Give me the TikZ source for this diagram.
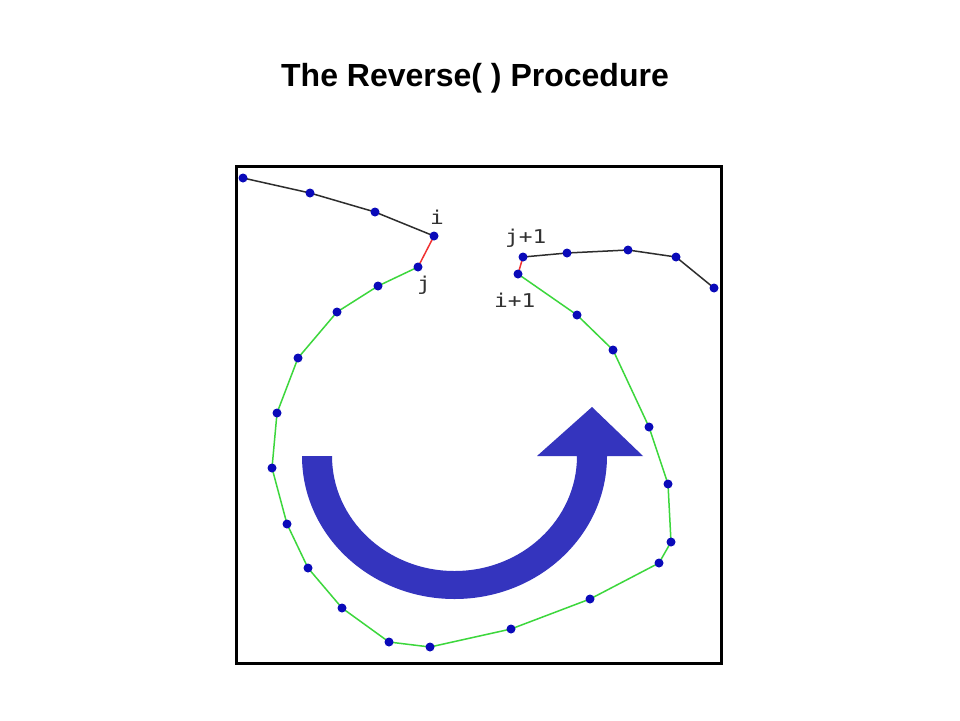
\documentclass[tikz,border=0pt]{standalone}
\usepackage{fontspec}
\setmainfont{Liberation Sans}
\newfontfamily\labfont[FakeStretch=1.2]{DejaVu Sans Mono}
\begin{document}
\begin{tikzpicture}[x=1pt,y=-1pt,
  dotstyle/.style={circle,fill=dotblue,inner sep=0pt,minimum size=9pt},
  blackline/.style={draw=linegrey,line width=1.5pt},
  greenline/.style={draw=linegreen,line width=1.5pt},
  redline/.style={draw=linered,line width=1.5pt},
  lab/.style={font=\labfont\fontsize{19}{19}\selectfont,text=labgrey,inner sep=0pt}]
\definecolor{dotblue}{RGB}{10,10,185}
\definecolor{arrowblue}{RGB}{52,52,190}
\definecolor{linegreen}{RGB}{60,215,60}
\definecolor{linered}{RGB}{240,50,50}
\definecolor{linegrey}{RGB}{45,45,45}
\definecolor{labgrey}{RGB}{50,50,50}
\useasboundingbox (0,0) rectangle (960,720);
\fill[white] (0,0) rectangle (960,720);
% title
\node[font=\bfseries\fontsize{32}{32}\selectfont,anchor=base] (title) at (475,86) {The Reverse( ) Procedure};
% frame
\draw[line width=3pt] (236.5,166.5) rectangle (721,663.5);
% reverse arrow
\fill[arrowblue] (302,456) arc[start angle=180,end angle=0,x radius=152.5,y radius=143]
  -- (643,456) -- (592,407) -- (537,456) -- (577,456)
  arc[start angle=0,end angle=180,x radius=122.5,y radius=115] -- cycle;
% points
\coordinate (a1) at (243,178);
\coordinate (a2) at (310,193);
\coordinate (a3) at (375,212);
\coordinate (pi) at (434,236);
\coordinate (pj) at (418,267);
\coordinate (g1) at (378,286);
\coordinate (g2) at (337,312);
\coordinate (g3) at (298,358);
\coordinate (g4) at (277,413);
\coordinate (g5) at (272,468);
\coordinate (g6) at (287,524);
\coordinate (g7) at (308,568);
\coordinate (g8) at (342,608);
\coordinate (g9) at (389,642);
\coordinate (g10) at (430,647);
\coordinate (g11) at (511,629);
\coordinate (g12) at (590,599);
\coordinate (g13) at (659,563);
\coordinate (g14) at (671,542);
\coordinate (g15) at (668,484);
\coordinate (g16) at (649,427);
\coordinate (g17) at (613,350);
\coordinate (g18) at (577,315);
\coordinate (pi1) at (518,274);
\coordinate (pj1) at (523,257);
\coordinate (b1) at (567,253);
\coordinate (b2) at (628,250);
\coordinate (b3) at (676,257);
\coordinate (b4) at (714,288);
% lines
\draw[blackline] (a1) -- (a2) -- (a3) -- (pi);
\draw[redline] (pi) -- (pj);
\draw[greenline] (pj) -- (g1) -- (g2) -- (g3) -- (g4) -- (g5) -- (g6) -- (g7) -- (g8) -- (g9) -- (g10) -- (g11) -- (g12) -- (g13) -- (g14) -- (g15) -- (g16) -- (g17) -- (g18) -- (pi1);
\draw[redline] (pi1) -- (pj1);
\draw[blackline] (pj1) -- (b1) -- (b2) -- (b3) -- (b4);
% dots
\foreach \p in {a1,a2,a3,pi,pj,g1,g2,g3,g4,g5,g6,g7,g8,g9,g10,g11,g12,g13,g14,g15,g16,g17,g18,pi1,pj1,b1,b2,b3,b4}
  \node[dotstyle] (d-\p) at (\p) {};
% labels
\node[lab,anchor=base west] (li) at (430,224) {i};
\node[lab,anchor=base west] (lj) at (417,290) {j};
\node[lab,anchor=base west] (lj1) at (505,243) {j+1};
\node[lab,anchor=base west] (li1) at (494,307) {i+1};
\end{tikzpicture}
\end{document}
